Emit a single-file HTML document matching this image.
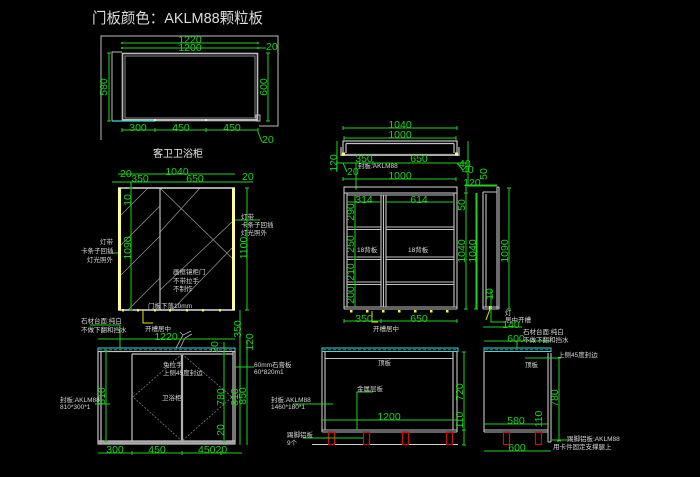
<!DOCTYPE html>
<html><head><meta charset="utf-8"><style>
html,body{margin:0;padding:0;background:#000;}
svg{display:block}
text{font-family:"Liberation Sans","Noto Sans CJK SC",sans-serif;}
.d{fill:#1ed21e;font-size:10.5px;}
.s{fill:#d6d6d6;font-size:6.5px;}
</style></head><body>
<svg width="700" height="477" viewBox="0 0 700 477" xmlns="http://www.w3.org/2000/svg">
<rect width="700" height="477" fill="#000"/>

<!-- Title -->
<text x="92" y="23" font-size="15" fill="#dcdcdc" textLength="171" lengthAdjust="spacingAndGlyphs">门板颜色：AKLM88颗粒板</text>

<!-- ============ TOP PLAN ============ -->
<g fill="none" stroke="#bdbdbd" stroke-width="1">
  <polyline points="101,140 101,36 278,36 278,126 259,126"/>
  <polyline points="122,52 112,52 112,121"/>
  <rect x="122.5" y="53.5" width="135" height="67" stroke-width="1.6"/>
  <rect x="125" y="56" width="130" height="62" stroke="#8a8a8a"/>
  <line x1="122" y1="120" x2="258" y2="120" stroke-width="2"/>
  <rect x="256" y="115" width="4" height="6"/>
</g>
<line x1="112" y1="121" x2="155" y2="121" stroke="#3fd8d8" stroke-width="1.2"/>
<g fill="#eee"><rect x="154" y="119" width="2" height="2"/><rect x="205" y="119" width="2" height="2"/></g>

<g stroke="#1ed21e" stroke-width="1" fill="none">
  <path d="M122 43H258M122 48H258M109 53V121M268 53V121M122 130H258M258 132L262 142M258 48H266"/>
  <path d="M122 128V132M155 128V132M206 128V132M258 128V132M107 53H111M107 121H111M266 53H270M266 121H270"/>
</g>
<g fill="#1ed21e"><circle cx="122" cy="43" r="1"/><circle cx="258" cy="43" r="1"/><circle cx="122" cy="48" r="1"/><circle cx="258" cy="48" r="1"/></g>
<text class="d" x="190" y="43" text-anchor="middle">1220</text>
<text class="d" x="190" y="51" text-anchor="middle">1200</text>
<text class="d" x="266" y="50">20</text>
<text class="d" transform="translate(107,87) rotate(-90)" text-anchor="middle">580</text>
<text class="d" transform="translate(267,87) rotate(-90)" text-anchor="middle">600</text>
<text class="d" x="138" y="131" text-anchor="middle">300</text>
<text class="d" x="181" y="131" text-anchor="middle">450</text>
<text class="d" x="232" y="131" text-anchor="middle">450</text>
<text class="d" x="262" y="143">20</text>
<text x="153" y="157" font-size="10" fill="#e8e8e8">客卫卫浴柜</text>

<!-- ============ FRONT ELEVATION (mirror) ============ -->
<g stroke="#9a9a9a" stroke-width="0.7" fill="none">
  <path d="M121 215L148 188M121 245L160 206M121 275L160 236M128 310L160 278"/>
  <path d="M160 188L232 258M160 232L200 188M172 310L232 248M160 290L232 222"/>
</g>
<line x1="160" y1="188" x2="160" y2="310" stroke="#bdbdbd" stroke-width="1.2"/>
<line x1="118" y1="188" x2="235" y2="188" stroke="#dcdcdc" stroke-width="1.5"/>
<line x1="118" y1="310" x2="235" y2="310" stroke="#dcdcdc" stroke-width="1.5"/>
<rect x="118" y="188" width="3" height="122" fill="#ffff90"/>
<rect x="232" y="188" width="3" height="122" fill="#ffff90"/>
<g fill="#ffee33">
  <rect x="122" y="309" width="2" height="2.5"/><rect x="137" y="309" width="2" height="2.5"/><rect x="154" y="309" width="2" height="2.5"/>
  <rect x="169" y="309" width="2" height="2.5"/><rect x="186" y="309" width="2" height="2.5"/><rect x="202" y="309" width="2" height="2.5"/><rect x="219" y="309" width="2" height="2.5"/>
</g>
<path d="M143 310V323H153" stroke="#e8e000" stroke-width="1" fill="none"/>
<g stroke="#1ed21e" stroke-width="1" fill="none">
  <path d="M118 174H235M112 182H253M131 182V310M109 253H118M247 188V310M235 220H260M90 325H120V348M240 310V445M247 341V445"/>
  <path d="M116 182H120M158 182H162M233 182H237M129 188H133M129 310H133M245 188H249M245 310H249"/>
</g>
<text class="d" x="177" y="175" text-anchor="middle">1040</text>
<text class="d" x="120" y="177">20</text>
<text class="d" x="140" y="182" text-anchor="middle">350</text>
<text class="d" x="195" y="182" text-anchor="middle">650</text>
<text class="d" x="242" y="180">20</text>
<text class="d" transform="translate(131,200) rotate(-90)" text-anchor="middle">10</text>
<text class="d" transform="translate(131,248) rotate(-90)" text-anchor="middle">1090</text>
<text class="d" transform="translate(247,248) rotate(-90)" text-anchor="middle">1100</text>
<text class="d" transform="translate(241,329) rotate(-90)" text-anchor="middle">350</text>
<text class="d" transform="translate(253,342) rotate(-90)" text-anchor="middle">120</text>
<text class="s" x="100" y="244">灯带</text>
<text class="s" x="81" y="253">卡条子回插</text>
<text class="s" x="87" y="262">灯光照外</text>
<text class="s" x="241" y="219">灯带</text>
<text class="s" x="241" y="227">卡条子回插</text>
<text class="s" x="241" y="235">灯光照外</text>
<text class="s" x="173" y="274">画框镜柜门</text>
<text class="s" x="173" y="283">不带拉手</text>
<text class="s" x="173" y="291">不制作</text>
<text class="s" x="148" y="308">门板下落10mm</text>
<text class="s" x="145" y="331">开槽居中</text>
<text class="s" x="81" y="323">石材台面:纯白</text>
<text class="s" x="81" y="332">不做下翻和挡水</text>

<!-- ============ BOTTOM-LEFT CABINET ============ -->
<rect x="98" y="348" width="137" height="3.5" fill="none" stroke="#3fd8d8" stroke-width="1"/>
<line x1="99" y1="349.8" x2="234" y2="349.8" stroke="#3fd8d8" stroke-width="0.6" stroke-dasharray="3,2"/>
<g stroke="#c4c4c4" fill="none" stroke-width="1.2">
  <rect x="98" y="351.5" width="137" height="92.5"/>
  <path d="M101 352V441M233 352V441M98 441H235M132 354V441M132 354H233"/>
</g>
<line x1="98" y1="442.5" x2="235" y2="442.5" stroke="#9a9a9a" stroke-width="2"/>
<line x1="182" y1="354" x2="182" y2="441" stroke="#b0b0b0" stroke-width="2.2"/>
<g stroke="#8a8a8a" stroke-width="0.7" stroke-dasharray="2,1.5" fill="none">
  <path d="M182 354L133 397L182 441M182 354L232 397L182 441"/>
</g>
<g stroke="#b8b8b8" stroke-width="0.8" fill="none">
  <path d="M176 348L183 335L191 331M180 348L185 338L192 334M183 335L180 332"/>
</g>
<g stroke="#1ed21e" stroke-width="1" fill="none">
  <path d="M98 339H235M106 351V441M95 404H110M224 342V441M235 367H254M98 453H242"/>
  <path d="M104 351H108M104 441H108M222 354H226M222 441H226M132 451V455M182 451V455M221 451V455"/>
</g>
<text class="d" x="166" y="340" text-anchor="middle">1220</text>
<text class="d" transform="translate(105,396) rotate(-90)" text-anchor="middle">810</text>
<text class="d" transform="translate(224,397) rotate(-90)" text-anchor="middle">780</text>
<text class="d" transform="translate(224,430) rotate(-90)" text-anchor="middle">20</text>
<text class="d" transform="translate(218,347) rotate(-90)" text-anchor="middle">20</text>
<text class="d" transform="translate(238,397) rotate(-90)" text-anchor="middle">810</text>
<text class="d" transform="translate(246,396) rotate(-90)" text-anchor="middle">850</text>
<text class="d" x="115" y="453" text-anchor="middle">300</text>
<text class="d" x="157" y="453" text-anchor="middle">450</text>
<text class="d" x="198" y="453">45020</text>
<text class="s" x="60" y="402">封板:AKLM88</text>
<text class="s" x="60" y="409">810*300*1</text>
<text class="s" x="162" y="400">卫浴柜</text>
<text class="s" x="163" y="367">免拉手</text>
<text class="s" x="163" y="375">上侧45度封边</text>
<text class="s" x="254" y="367">60mm石膏板</text>
<text class="s" x="254" y="374">60*820m1</text>

<!-- ============ MIDDLE PLAN ============ -->
<g stroke="#c4c4c4" fill="none" stroke-width="1.2">
  <rect x="343" y="141" width="114" height="13.5"/>
  <path d="M346 143.5H454M346 143.5V153M454 143.5V153M341 147V156M459 147V156"/>
</g>
<line x1="341" y1="155" x2="459" y2="155" stroke="#a8a8a8" stroke-width="2"/>
<rect x="342" y="152.5" width="3" height="3" fill="#ffff80"/>
<rect x="455" y="152.5" width="3" height="3" fill="#ffff80"/>
<g stroke="#1ed21e" stroke-width="1" fill="none">
  <path d="M343 128H457M344 138H456M337 141V172M337 163H467M343 163L347 172M356 163V190M343 179H456M468 141V185M457 163L463 170M465 186H497"/>
  <path d="M343 126V130M457 126V130M344 136V140M456 136V140M373 161V165M343 177V181M456 177V181"/>
</g>
<text class="d" x="400" y="128" text-anchor="middle">1040</text>
<text class="d" x="400" y="138" text-anchor="middle">1000</text>
<text class="d" transform="translate(337,163) rotate(-90)" text-anchor="middle">120</text>
<text class="d" x="364" y="162" text-anchor="middle">350</text>
<text class="d" x="419" y="162" text-anchor="middle">650</text>
<text class="s" x="358" y="168">封板:AKLM88</text>
<text class="d" x="347" y="175">20</text>
<text class="d" x="400" y="179" text-anchor="middle">1000</text>
<text class="d" x="459" y="167">40</text>
<text class="d" x="462" y="173">40</text>

<!-- ============ SHELF ELEVATION ============ -->
<g stroke="#c4c4c4" fill="none" stroke-width="1.1">
  <rect x="344" y="187" width="113" height="6"/>
  <path d="M344 193V309M347 193V307M454 193V307M457 193V309M347 195H454"/>
  <path d="M381 195V307M383.5 195V307M386 195V307"/>
  <path d="M347 227H381M347 229.5H381M386 227H454M386 229.5H454"/>
  <path d="M347 257H381M347 259.5H381M386 257H454M386 259.5H454"/>
  <path d="M347 282H381M347 284.5H381M386 282H454M386 284.5H454"/>
  <path d="M344 307H457M344 309H457"/>
</g>
<g fill="#ffee33">
  <rect x="350" y="310" width="2.5" height="2.5"/><rect x="366" y="310" width="2.5" height="2.5"/><rect x="382" y="310" width="2.5" height="2.5"/>
  <rect x="398" y="310" width="2.5" height="2.5"/><rect x="414" y="310" width="2.5" height="2.5"/><rect x="430" y="310" width="2.5" height="2.5"/><rect x="446" y="310" width="2.5" height="2.5"/>
</g>
<path d="M372 311V322H378" stroke="#e8e000" stroke-width="1" fill="none"/>
<g stroke="#1ed21e" stroke-width="1" fill="none">
  <path d="M347 202H381M386 202H453M355 195V307M466 187V309M477 193V309M344 321H457"/>
  <path d="M353 227H357M353 257H357M353 282H357M464 193H468M344 319V323M381 319V323M457 319V323"/>
</g>
<text class="d" x="364" y="203" text-anchor="middle">314</text>
<text class="d" x="419" y="203" text-anchor="middle">614</text>
<text class="d" transform="translate(354,212) rotate(-90)" text-anchor="middle">290</text>
<text class="d" transform="translate(354,244) rotate(-90)" text-anchor="middle">250</text>
<text class="d" transform="translate(354,272) rotate(-90)" text-anchor="middle">210</text>
<text class="d" transform="translate(354,295) rotate(-90)" text-anchor="middle">200</text>
<text class="d" transform="translate(465,205) rotate(-90)" text-anchor="middle">50</text>
<text class="d" transform="translate(465,251) rotate(-90)" text-anchor="middle">1040</text>
<text class="d" transform="translate(476,251) rotate(-90)" text-anchor="middle">1040</text>
<text class="s" x="357" y="252">18背板</text>
<text class="s" x="408" y="252">18背板</text>
<text class="d" x="364" y="322" text-anchor="middle">350</text>
<text class="d" x="419" y="322" text-anchor="middle">650</text>
<text class="s" x="373" y="331">开槽居中</text>

<!-- ============ SIDE VIEW ============ -->
<g stroke="#c4c4c4" fill="none" stroke-width="1.1">
  <path d="M483 192H497M483 192V309M486 194V307M483 307H499M483 309H499M497 187V309M499 187V309M497 187H499"/>
</g>
<rect x="489" y="306" width="3" height="3" fill="#ffee33"/>
<line x1="490" y1="309" x2="486" y2="320" stroke="#e8e000" stroke-width="1"/>
<g stroke="#1ed21e" stroke-width="1" fill="none">
  <path d="M466 193V309M476 193V309M509 188V309M491 290V322H505M483 327H522M465 185H497"/>
  <path d="M464 309H468M474 309H478M507 188H511M507 309H511"/>
</g>
<text class="d" x="472" y="186" text-anchor="middle">120</text>
<text class="d" transform="translate(487,174) rotate(-90)" text-anchor="middle">50</text>
<text class="d" transform="translate(508,251) rotate(-90)" text-anchor="middle">1090</text>
<text class="d" transform="translate(493,294) rotate(-90)" text-anchor="middle">10</text>
<text class="s" x="505" y="315">灯</text>
<text class="s" x="505" y="322">居中开槽</text>
<text class="d" x="511" y="328" text-anchor="middle">140</text>

<!-- ============ BOTTOM MIDDLE ============ -->
<rect x="322" y="348" width="136" height="3.5" fill="none" stroke="#3fd8d8" stroke-width="1"/>
<line x1="323" y1="349.8" x2="457" y2="349.8" stroke="#3fd8d8" stroke-width="0.6" stroke-dasharray="3,2"/>
<g stroke="#c4c4c4" fill="none" stroke-width="1.1">
  <path d="M322 352V432M325 352V430M453 352V430M457 352V432M325 358.5H453M322 430H457M322 432H457"/>
</g>
<line x1="312" y1="444.5" x2="458" y2="444.5" stroke="#d0d0d0" stroke-width="1"/>
<g fill="none" stroke="#c81010" stroke-width="1.2">
  <rect x="328.5" y="432.5" width="6" height="12"/><rect x="363.5" y="432.5" width="6" height="12"/>
  <rect x="402.5" y="432.5" width="6" height="12"/><rect x="446.5" y="432.5" width="6" height="12"/>
</g>
<g stroke="#1ed21e" stroke-width="1" fill="none">
  <path d="M373 392H357V430M322 420H457M464 352V445M293 404H333M303 438H363"/>
  <path d="M462 352H466M462 430H466M462 445H466"/>
</g>
<text class="s" x="378" y="365">顶板</text>
<text class="s" x="357" y="391">金属层板</text>
<text class="d" x="389" y="420" text-anchor="middle">1200</text>
<text class="d" transform="translate(463,392) rotate(-90)" text-anchor="middle">720</text>
<text class="d" transform="translate(463,420) rotate(-90)" text-anchor="middle">110</text>
<text class="s" x="271" y="402">封板:AKLM88</text>
<text class="s" x="271" y="409">1460*180*1</text>
<text class="s" x="287" y="437">踢脚铝板</text>
<text class="s" x="287" y="445">9个</text>

<!-- ============ BOTTOM RIGHT SIDE ============ -->
<rect x="484" y="348" width="67" height="3.5" fill="none" stroke="#3fd8d8" stroke-width="1"/>
<line x1="485" y1="349.8" x2="550" y2="349.8" stroke="#3fd8d8" stroke-width="0.6" stroke-dasharray="3,2"/>
<g stroke="#c4c4c4" fill="none" stroke-width="1.1">
  <path d="M484 352V432M484 430H548M484 432H548M548 353V442M551 353V442M548 442H551"/>
</g>
<g fill="none" stroke="#c81010" stroke-width="1.2">
  <rect x="503.5" y="432.5" width="6" height="12"/><rect x="535.5" y="432.5" width="6" height="12"/>
</g>
<g stroke="#1ed21e" stroke-width="1" fill="none">
  <path d="M484 341H551M517 341V348M525 358H558M559 358V441M484 424H549M484 451H551M552 440H567"/>
  <path d="M557 358H561M557 441H561"/>
</g>
<text class="s" x="523" y="334">石材台面:纯白</text>
<text class="s" x="523" y="342">不做下翻和挡水</text>
<text class="d" x="516" y="342" text-anchor="middle">600</text>
<text class="s" x="525" y="367">顶板</text>
<text class="s" x="558" y="357">上侧45度封边</text>
<text class="d" transform="translate(558,398) rotate(-90)" text-anchor="middle">780</text>
<text class="d" x="516" y="424" text-anchor="middle">580</text>
<text class="d" transform="translate(542,419) rotate(-90)" text-anchor="middle">110</text>
<text class="d" x="517" y="451" text-anchor="middle">600</text>
<text class="s" x="567" y="441">踢脚铝板:AKLM88</text>
<text class="s" x="553" y="449">用卡件固定支撑腿上</text>
</svg>
</body></html>
